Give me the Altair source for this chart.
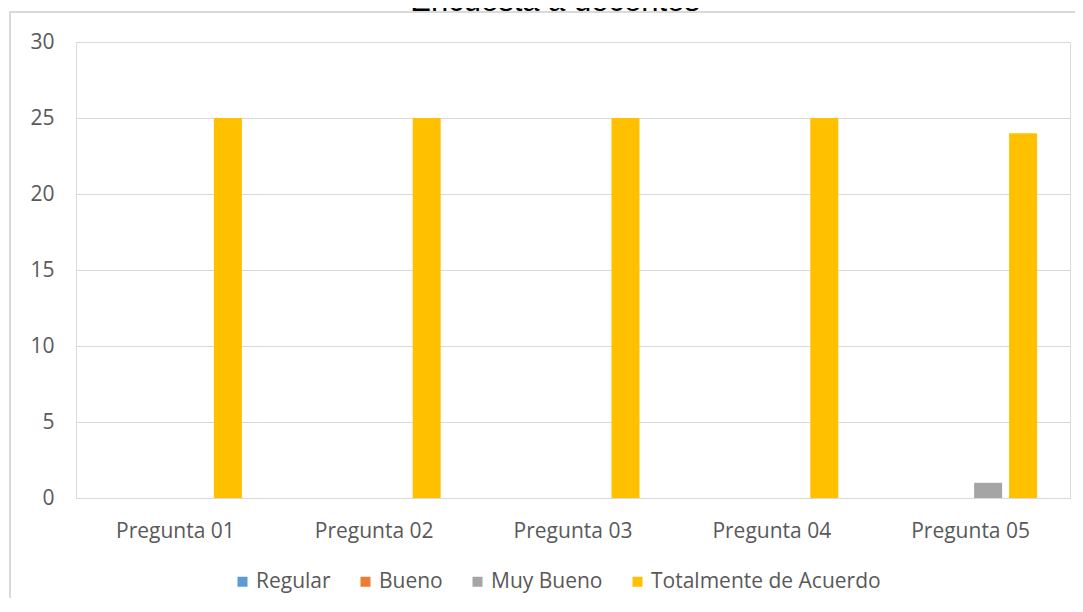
import altair as alt
import pandas as pd

categories = ["Pregunta 01", "Pregunta 02", "Pregunta 03", "Pregunta 04", "Pregunta 05"]
series = ["Regular", "Bueno", "Muy Bueno", "Totalmente de Acuerdo"]
regular = [0, 0, 0, 0, 0]
bueno = [0, 0, 0, 0, 0]
muy_bueno = [0, 0, 0, 0, 1]
totalmente = [25, 25, 25, 25, 24]
colors = ["#5B9BD5", "#ED7D31", "#A5A5A5", "#FFC000"]
y_ticks = [0, 5, 10, 15, 20, 25, 30]
title_text = "Encuesta a docentes"

rows = []
for name, vals in zip(series, [regular, bueno, muy_bueno, totalmente]):
    for c, v in zip(categories, vals):
        rows.append({"Pregunta": c, "Serie": name, "Valor": v})
df = pd.DataFrame(rows)

FONT = "Open Sans"
GRAY = "#595959"
W, H = 994, 456

bars = alt.Chart(df).mark_bar(size=28).encode(
    x=alt.X("Pregunta:N", sort=categories, title=None,
            scale=alt.Scale(paddingInner=0, paddingOuter=0),
            axis=alt.Axis(labelAngle=0, labelFont=FONT, labelFontSize=21,
                          labelColor=GRAY, labelPadding=22, ticks=False,
                          domainColor="#D9D9D9", domainWidth=1)),
    xOffset=alt.XOffset("Serie:N", sort=series,
                        scale=alt.Scale(paddingInner=0.2, paddingOuter=0.94)),
    y=alt.Y("Valor:Q", title=None,
            scale=alt.Scale(domain=[0, 30], nice=False),
            axis=alt.Axis(values=y_ticks, labelFont=FONT, labelFontSize=21,
                          labelColor=GRAY, labelPadding=22, ticks=False,
                          domain=False, gridColor="#D9D9D9", gridWidth=1)),
    color=alt.Color("Serie:N", sort=series,
                    scale=alt.Scale(domain=series, range=colors),
                    legend=alt.Legend(title=None, orient="none", legendX=156, legendY=529,
                                      direction="horizontal", columns=4,
                                      symbolType="square", symbolSize=100,
                                      symbolStrokeWidth=0,
                                      labelFont=FONT, labelFontSize=21, labelColor=GRAY,
                                      labelOffset=3, columnPadding=24, padding=0,
                                      labelLimit=400)),
)

edge = pd.DataFrame({"k": [0]})
frame_top = alt.Chart(edge).mark_rule(color="#D9D9D9", strokeWidth=2, clip=False).encode(
    x=alt.value(-67), x2=alt.value(1100), y=alt.value(-30))
frame_left = alt.Chart(edge).mark_rule(color="#D9D9D9", strokeWidth=2, clip=False).encode(
    x=alt.value(-66), y=alt.value(-31), y2=alt.value(700))

title = alt.Chart(pd.DataFrame({"t": [title_text]})).mark_text(
    font="Liberation Sans", fontSize=31, color="#000000", baseline="alphabetic",
    align="center", clip=False
).encode(text="t:N", x=alt.value(479), y=alt.value(-31.5))

chart = alt.layer(frame_top, frame_left, bars, title).properties(
    width=W, height=H,
    autosize=alt.AutoSizeParams(type="none"),
    padding={"left": 68, "top": 34, "right": 5, "bottom": 100},
).configure_view(strokeWidth=0, stroke="transparent").configure(background="white")

chart.save("out.html", embed_options={"renderer": "svg", "actions": False})
